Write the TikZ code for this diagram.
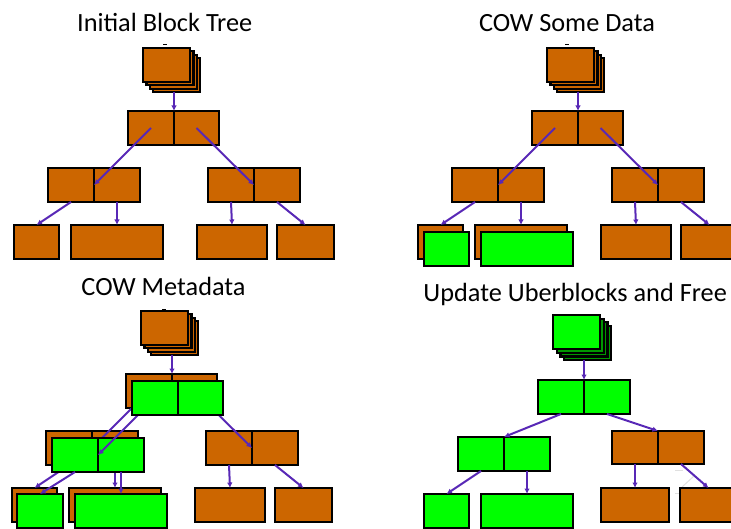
\documentclass[tikz,border=0pt]{standalone}
\usepackage{fontspec}
\setmainfont{Carlito}
\usetikzlibrary{arrows.meta}

\definecolor{rust}{RGB}{204,102,0}
\definecolor{lime}{RGB}{0,255,0}
\definecolor{deepgreen}{RGB}{0,150,0}
\definecolor{ptrcol}{RGB}{88,40,182}

\tikzset{
  blk/.style={draw=black, line width=2.2pt, inner sep=0pt, outer sep=0pt, anchor=north west},
  old/.style={blk, fill=rust},
  new/.style={blk, fill=lime},
  newback/.style={blk, fill=deepgreen},
  link/.style={draw=ptrcol, line width=2pt, -{Latex[length=5.5pt,width=5.5pt]}},
  ttl/.style={anchor=base, inner sep=0pt, font=\fontsize{26.3}{30}\selectfont},
  tick/.style={line width=0.8pt},
}

% one block: style, name, x, y (top-left), width, height
\newcommand\putblock[6]{%
  \node[#1, minimum width=#5pt, minimum height=#6pt] (#2) at (#3,#4) {};}

% uberblock stack: front style, back style, name, x, y, layer step
\newcommand\putstack[6]{%
  \foreach \k in {3,2,1}{%
    \node[#2, minimum width=47pt, minimum height=34pt] (#3-\k) at (#4+\k*#6,#5+\k*#6) {};}
  \node[#1, minimum width=47pt, minimum height=34pt] (#3) at (#4,#5) {};}

% the original block tree with all of its pointers
\newcommand\basetree[1]{%
  \putstack{old}{old}{r#1}{143}{48}{3.4}
  \putblock{old}{a#1}{128}{111}{46}{34}
  \putblock{old}{b#1}{174}{111}{45}{34}
  \putblock{old}{la#1}{48}{168}{46}{34}
  \putblock{old}{lb#1}{94}{168}{46}{34}
  \putblock{old}{ra#1}{208}{168}{46}{34}
  \putblock{old}{rb#1}{254}{168}{46}{34}
  \putblock{old}{A#1}{14}{225}{45}{34}
  \putblock{old}{B#1}{71}{225}{92}{34}
  \putblock{old}{C#1}{197}{225}{70}{34}
  \putblock{old}{D#1}{277}{225}{57}{34}
  \draw[link] (a#1.north east |- r#1-3.south) -- (a#1.north east);
  \draw[link] (a#1.center) -- (lb#1.west);
  \draw[link] (b#1.center) -- (rb#1.west);
  \draw[link] (la#1.south) -- (A#1.north);
  \draw[link] (lb#1.south) -- (B#1.north);
  \draw[link] (ra#1.south) -- (C#1.north);
  \draw[link] (rb#1.south) -- (D#1.north);}

\begin{document}
\begin{tikzpicture}[x=1pt, y=-1pt]
\useasboundingbox (0,0) rectangle (731,529);
\clip (0,0) rectangle (731,529);

% ---------- Initial Block Tree ----------
\node[ttl] (t1) at (164.7,31.7) {Initial Block Tree};
\draw[tick] (163.3,44.5) -- (166.7,44.5);
\basetree{1}

% ---------- COW Some Data ----------
\node[ttl] (t2) at (567,31.7) {COW Some Data};
\draw[tick] (565.3,44.3) -- (568.7,44.3);
\begin{scope}[shift={(404,0)}]
  \basetree{2}
  \putblock{new}{nA2}{20}{232}{45}{34}
  \putblock{new}{nB2}{77}{232}{92}{34}
\end{scope}

% ---------- COW Metadata ----------
\node[ttl] (t3) at (163.5,295.7) {COW Metadata};
\draw[tick] (162.3,309.3) -- (165.7,309.3);
\begin{scope}[shift={(-2,263)}]
  \basetree{3}
  % copied indirect blocks and data, then their pointers,
  % then the copied top block over the start of its pointer
  \putblock{new}{nla3}{54}{175}{46}{34}
  \putblock{new}{nlb3}{100}{175}{46}{34}
  \putblock{new}{nA3}{19}{231}{46}{34}
  \putblock{new}{nB3}{77}{231}{92}{34}
  \coordinate (nc3) at (157,135);
  \draw[link] (nc3) -- (nlb3.west);
  \draw[link] (nla3.south) -- (nA3.north);
  \draw[link] (nlb3.south) -- (nB3.north);
  \putblock{new}{na3}{134}{118}{46}{34}
  \putblock{new}{nb3}{180}{118}{45}{34}
\end{scope}

% ---------- Update Uberblocks and Free ----------
\node[ttl] (t4) at (575.2,301.7) {Update Uberblocks and Free};
\draw[tick] (573.3,314.3) -- (576.7,314.3);
\draw[black!12, line width=1pt] (675,470) -- (683,470);
\draw[black!12, line width=1pt] (694,476) -- (682,487);
\draw[black!12, line width=1pt] (675,493) -- (679,493);
\putstack{new}{newback}{r4}{553}{315}{3.7}
\putblock{new}{a4}{538}{380}{46}{34}
\putblock{new}{b4}{584}{380}{46}{34}
\putblock{new}{la4}{458}{437}{46}{34}
\putblock{new}{lb4}{504}{437}{46}{34}
\putblock{old}{ra4}{612}{431}{46}{33}
\putblock{old}{rb4}{658}{431}{46}{33}
\putblock{new}{A4}{424}{494}{45}{34}
\putblock{new}{B4}{481}{494}{92}{34}
\putblock{old}{C4}{601}{488}{68}{34}
\putblock{old}{D4}{680}{488}{57}{34}
\draw[link] (a4.north east |- r4-3.south) -- (a4.north east);
\draw[link] (a4.south) -- (lb4.north west);
\draw[link] (b4.south) -- (rb4.north west);
\draw[link] (la4.south) -- (A4.north);
\draw[link] (lb4.south) -- (B4.north);
\draw[link] (ra4.south) -- (C4.north);
\draw[link] (rb4.south) -- (D4.north);
\end{tikzpicture}
\end{document}
